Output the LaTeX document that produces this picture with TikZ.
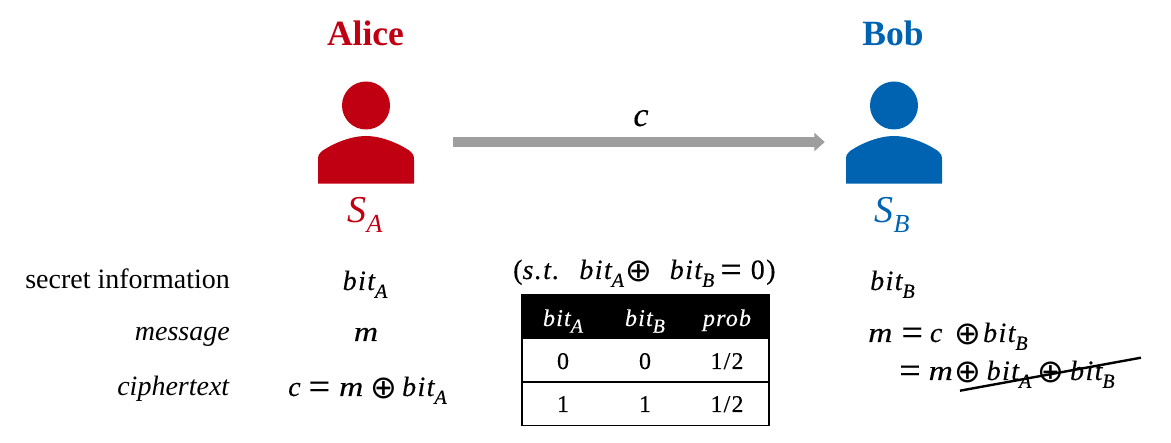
\documentclass[tikz,border=0pt]{standalone}
\usepackage{fontspec}
\setmainfont{Liberation Serif}
\newfontface\mfont{Liberation Serif Italic}[LetterSpace=5,FakeBold=0.25]
\newfontface\mup{Liberation Serif}[LetterSpace=5,FakeBold=0.25]
\newfontface\symf{DejaVu Sans}
\usetikzlibrary{arrows.meta}
\definecolor{alicered}{HTML}{C00012}
\definecolor{bobblue}{HTML}{0063B1}
\definecolor{arrowgrey}{HTML}{9E9E9E}
\newcommand{\mv}[1]{{\mfont #1}}
\newcommand{\sbs}[1]{\raisebox{-0.28em}{\fontsize{20}{20}\mfont #1}}
\newcommand{\opl}{\raisebox{-3pt}{\fontsize{32}{32}\symf ⊕}}
\newcommand{\bitA}{\mv{bit}\sbs{A}}
\newcommand{\bitB}{\mv{bit}\sbs{B}}
\newcommand{\eqs}{\raisebox{-3pt}{\fontsize{38}{38}\mup =}}
\newcommand{\emv}{\scalebox{1.2}[1]{\mv{m}}}
\newcommand{\hs}[1]{\hspace{#1pt}}
\tikzset{
  x=1pt,y=-1pt,
  txt/.style={inner sep=0pt,font=\fontsize{28}{28}\selectfont,text=black},
  lab/.style={txt,anchor=base east},
  val/.style={txt,anchor=base},
  vall/.style={txt,anchor=base west},
  head/.style={inner sep=0pt,anchor=base,font=\fontsize{35.5}{35.5}\selectfont\bfseries},
  iconbox/.style={inner sep=0pt,minimum width=96pt,minimum height=84pt},
  rowline/.style={draw=black,line width=1.7pt},
  cell/.style={inner sep=0pt,anchor=base,font=\fontsize{24}{24}\mup},
  hcell/.style={cell,text=white},
  msgarrow/.style={draw=arrowgrey,line width=10pt,-{Triangle[length=10.5pt,width=18pt]},shorten <=39pt,shorten >=21pt},
}
\newcommand{\personicon}[2]{%
  \fill[#2] (#1,105.5) circle[radius=24];
  \fill[#2] (#1-48,183.7) -- (#1-48,160) .. controls (#1-48,155.5) and (#1-47,153) .. (#1-44,151)
    .. controls (#1-32,143) and (#1-15,136) .. (#1,136)
    .. controls (#1+15,136) and (#1+32,143) .. (#1+44,151)
    .. controls (#1+47,153) and (#1+48,155.5) .. (#1+48,160) -- (#1+48,183.7) -- cycle;
}
\begin{document}
\begin{tikzpicture}
\useasboundingbox (0,0) rectangle (1171,443);
% people
\personicon{366}{alicered}
\personicon{894}{bobblue}
\node[iconbox] (aliceicon) at (366,142) {};
\node[iconbox] (bobicon) at (894,142) {};
\node[head,text=alicered] (alice) at (365.5,46) {Alice};
\node[head,text=bobblue] (bob) at (893,46) {Bob};
\node[val,text=alicered,font=\fontsize{38}{38}\selectfont] (sa) at (365,223) {\textit{S}\raisebox{-0.25em}{\fontsize{26}{26}\selectfont\textit{A}}};
\node[val,text=bobblue,font=\fontsize{38}{38}\selectfont] (sb) at (892,223) {\textit{S}\raisebox{-0.25em}{\fontsize{26}{26}\selectfont\textit{B}}};
% arrow
\draw[msgarrow] (aliceicon.east) -- (bobicon.west);
\node[val,font=\fontsize{34}{34}\selectfont] (clabel) at (641,126) {\mv{c}};
% left labels
\node[lab] (l1) at (230,289) {secret information};
\node[lab] (l2) at (230,341) {\textit{message}};
\node[lab] (l3) at (230,396) {\textit{ciphertext}};
\node[val] (a1) at (365,290) {\bitA};
\node[val] (a2) at (366,341) {\emv};
\node[vall] (a3) at (288,396) {\mv{c}\hs{8}\eqs\hs{9}\emv\hs{7}\opl\hs{5}\bitA};
% middle
\node[vall] (st) at (513,279) {\mup(\mv{s.t.}\hs{20}\bitA\hs{2}\opl\hs{17}\bitB\hs{6}\eqs\hs{9}\mup 0)};
\fill[black] (522,295) rectangle (769,339);
\node[hcell] (h1) at (563,326) {\mv{bit}\sbs{A}};
\node[hcell] (h2) at (645,326) {\mv{bit}\sbs{B}};
\node[hcell] (h3) at (727,326) {\mv{prob}};
\node[cell] (c11) at (563,369) {0};
\node[cell] (c12) at (645,369) {0};
\node[cell] (c13) at (727,369) {1/2};
\node[cell] (c21) at (563,412) {1};
\node[cell] (c22) at (645,412) {1};
\node[cell] (c23) at (727,412) {1/2};
\draw[rowline] (522,295) rectangle (769,425.5);
\draw[rowline] (522,382) -- (769,382);
% right
\node[vall] (b1) at (870,290) {\bitB};
\node[vall] (b2) at (868,342) {\emv\hs{9}\eqs\hs{7}\mv{c}\hs{12}\opl\hs{2}\bitB};
\node[vall] (b3) at (899,380) {\eqs\hs{8}\emv\hs{2}\opl\hs{5}\bitA\hs{6}\opl\hs{6}\bitB};
\coordinate (strikea) at (960,390.7);
\coordinate (strikeb) at (1141,357.7);
\draw[line width=2.4pt] (strikea) -- (strikeb);
\end{tikzpicture}
\end{document}
